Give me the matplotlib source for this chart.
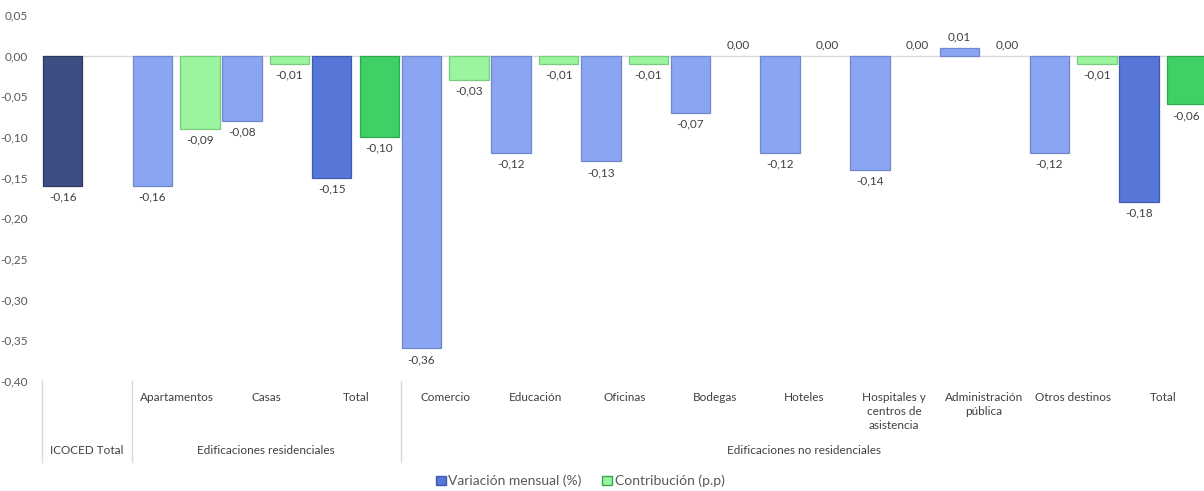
import matplotlib.pyplot as plt
import matplotlib.transforms as mtransforms
from matplotlib.patches import Patch
import numpy as np

plt.rcParams['font.family'] = ['Lato', 'DejaVu Sans']

# Categories (bottom level) and groups (top level)
categories = ['', 'Apartamentos', 'Casas', 'Total', 'Comercio', 'Educación', 'Oficinas',
              'Bodegas', 'Hoteles', 'Hospitales y\ncentros de\nasistencia',
              'Administración\npública', 'Otros destinos', 'Total']
groups = ['ICOCED Total', 'Edificaciones residenciales', 'Edificaciones no residenciales']
group_spans = [(0, 0), (1, 3), (4, 12)]

# Series values
variacion = [-0.16, -0.16, -0.08, -0.15, -0.36, -0.12, -0.13, -0.07, -0.12, -0.14, 0.01, -0.12, -0.18]
contribucion = [np.nan, -0.09, -0.01, -0.10, -0.03, -0.01, -0.01, 0.00, 0.00, 0.00, 0.00, -0.01, -0.06]

blue_light, blue_dark, navy = '#8AA5F2', '#5677D8', '#3D4F82'
green_light, green_dark = '#9AF59E', '#40D166'
blue_colors = [navy] + [blue_light] * 2 + [blue_dark] + [blue_light] * 8 + [blue_dark]
green_colors = [green_light] * 3 + [green_dark] + [green_light] * 8 + [green_dark]
blue_edges = ['#2C3A60'] + ['#6F87CC'] * 2 + ['#3F5BB0'] + ['#6F87CC'] * 8 + ['#3F5BB0']
green_edges = ['#7ACC7E'] * 3 + ['#2FA84F'] + ['#7ACC7E'] * 8 + ['#2FA84F']

text_color = '#595959'

fig = plt.figure(figsize=(12.04, 4.91), dpi=100)
ax = fig.add_axes([42 / 1204, 1 - 381 / 491, 1166 / 1204, 366 / 491])

x = np.arange(len(categories))
w = 0.44
off_b, off_g = -0.27, 0.26

ax.bar(x + off_b, variacion, w, color=blue_colors, edgecolor=blue_edges, linewidth=0.9, zorder=3)
gmask = ~np.isnan(contribucion)
gvals = np.array(contribucion)[gmask]
ax.bar(x[gmask] + off_g, gvals, w,
       color=np.array(green_colors)[gmask], edgecolor=np.array(green_edges)[gmask],
       linewidth=[0.9 if v != 0 else 0 for v in gvals], zorder=3)


def fmt(v):
    return f'{round(v, 2) + 0.0:.2f}'.replace('.', ',')


def label(xp, v):
    if v < 0:
        ax.annotate(fmt(v), (xp, v), xytext=(0, -4), textcoords='offset points',
                    ha='center', va='top', fontsize=8.5, color='#404040')
    else:
        ax.annotate(fmt(v), (xp, v), xytext=(0, 4), textcoords='offset points',
                    ha='center', va='bottom', fontsize=8.5, color='#404040')


for xi, v in zip(x, variacion):
    label(xi + off_b, v)
for xi, v in zip(x, contribucion):
    if not np.isnan(v):
        label(xi + off_g, v)

yt = np.arange(-0.40, 0.051, 0.05)
ax.set_xlim(-0.5, len(categories) - 0.5)
ax.set_ylim(-0.40, 0.05)
ax.set_yticks(yt)
ax.set_yticklabels([fmt(t) for t in yt])
ax.tick_params(axis='y', length=0, pad=10, labelsize=8.5, labelcolor=text_color)
ax.axhline(0, color='#D9D9D9', linewidth=1, zorder=2)
for s in ax.spines.values():
    s.set_visible(False)

ax.set_xticks(x)
ax.set_xticklabels(categories, fontsize=8.5, color='#404040', linespacing=1.3)
ax.tick_params(axis='x', length=0, pad=8)

trans = mtransforms.blended_transform_factory(ax.transData, fig.transFigure)
for (a, b), g in zip(group_spans, groups):
    ax.text((a + b) / 2, 1 - 450 / 491, g, transform=trans, ha='center', va='center',
            fontsize=8.5, color='#404040')
for sep in [-0.5, 0.5, 3.5, len(categories) - 0.5]:
    ax.plot([sep, sep], [1 - 381 / 491, 1 - 462 / 491], transform=trans, color='#D9D9D9',
            linewidth=1, clip_on=False)

handles = [Patch(facecolor=blue_dark, edgecolor='#3F5BB0', label='Variación mensual (%)'),
           Patch(facecolor=green_light, edgecolor='#2FA84F', label='Contribución (p.p)')]
leg = fig.legend(handles=handles, loc='center', bbox_to_anchor=(0.482, 1 - 481 / 491), ncol=2,
                 frameon=False, fontsize=10, handlelength=0.7, handleheight=0.7,
                 handletextpad=0.2, columnspacing=1.5)
for t in leg.get_texts():
    t.set_color(text_color)

fig.savefig('out.png', dpi=100)
